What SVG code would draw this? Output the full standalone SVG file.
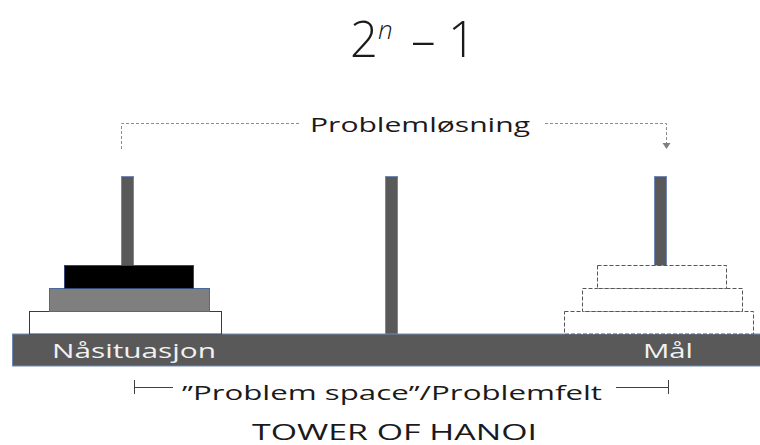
<svg xmlns="http://www.w3.org/2000/svg" width="760" height="445" viewBox="0 0 760 445">
  <style>
    .lbl { font-family: "Open Sans", "Liberation Sans", sans-serif; fill: #1a1a1a; }
    .base-lbl { font-family: "Open Sans", "Liberation Sans", sans-serif; fill: #f2f2f2; font-size: 19.5px; }
    .pole { fill: #595959; stroke: #7089b3; stroke-width: 1; }
    .ddisk { fill: #ffffff; stroke: #555555; stroke-width: 1; stroke-dasharray: 4 2; }
    .guide { fill: none; stroke: #8c8c8c; stroke-width: 1; stroke-dasharray: 3 2; }
    .span { fill: none; stroke: #404040; stroke-width: 1; }
  </style>
  <rect width="760" height="445" fill="#ffffff"/>

  <g id="formula">
    <text class="lbl" font-weight="300" font-size="49"><tspan x="350" y="57">2</tspan><tspan x="378" y="39" font-size="26" font-style="italic">n</tspan><tspan x="411" y="57">–</tspan><tspan x="448" y="57">1</tspan></text>
  </g>

  <g id="connectors">
    <path class="guide" d="M121.5,149 V123.5 H300 M545,123.5 H666.5 V143"/>
    <polygon points="662.5,143 670.5,143 666.5,149" fill="#7f7f7f"/>
    <path class="span" d="M134.5,380 V394 M134.5,387.5 H173 M616,387.5 H668.5 M668.5,380 V394"/>
  </g>

  <g id="label-problemlosning">
    <text class="lbl" x="310" y="132" font-size="19.5" textLength="220" lengthAdjust="spacingAndGlyphs">Problemløsning</text>
  </g>

  <g id="pole-left"><rect class="pole" x="121.5" y="176.5" width="12" height="158"/></g>
  <g id="pole-middle"><rect class="pole" x="385.5" y="176.5" width="12" height="158"/></g>
  <g id="pole-right"><rect class="pole" x="654.5" y="176.5" width="12" height="158"/></g>

  <g id="base">
    <rect x="12.5" y="334" width="760" height="32" fill="#595959" stroke="#7089b3" stroke-width="1"/>
    <text class="base-lbl" x="52" y="358" textLength="164" lengthAdjust="spacingAndGlyphs">Nåsituasjon</text>
    <text class="base-lbl" x="643" y="358" textLength="50" lengthAdjust="spacingAndGlyphs">Mål</text>
  </g>

  <g id="disks-start">
    <rect x="29.5" y="311.5" width="192" height="22.5" fill="#ffffff" stroke="#3a3a3a" stroke-width="1"/>
    <rect x="49.5" y="288.5" width="160" height="23" fill="#7f7f7f" stroke="#4a6a9a" stroke-width="1"/>
    <rect x="64.5" y="265.5" width="129" height="23" fill="#000000" stroke="#2f4a73" stroke-width="1"/>
  </g>

  <g id="disks-goal">
    <rect class="ddisk" x="564.5" y="311.5" width="189" height="22.5"/>
    <rect class="ddisk" x="582.5" y="288.5" width="160" height="23"/>
    <rect class="ddisk" x="597.5" y="265.5" width="129" height="23"/>
  </g>

  <g id="label-problem-space">
    <text class="lbl" x="182" y="400" font-size="19.5" textLength="420" lengthAdjust="spacingAndGlyphs">”Problem space”/Problemfelt</text>
  </g>

  <g id="title">
    <text class="lbl" x="252" y="440" font-size="21" textLength="285" lengthAdjust="spacingAndGlyphs">TOWER OF HANOI</text>
  </g>
</svg>
